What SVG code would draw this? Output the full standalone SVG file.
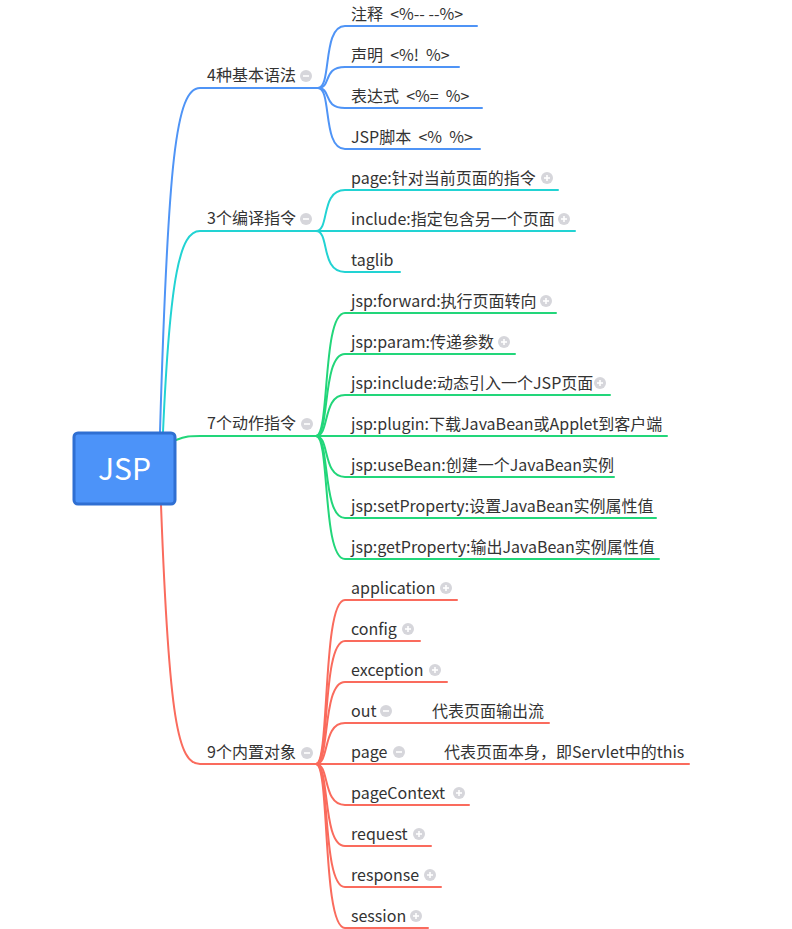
<svg xmlns="http://www.w3.org/2000/svg" width="792" height="929" viewBox="0 0 792 929">
<style>
text{font-family:"Microsoft YaHei","Noto Sans CJK SC","Noto Sans",sans-serif;font-size:16px;fill:#333;white-space:pre}
.c{fill:none;stroke-width:2;stroke-linecap:round}
.b{stroke:#4f94f6}.cy{stroke:#22d3d3}.g{stroke:#22d67a}.r{stroke:#fa6b5d}
.ic{fill:#d6d6db}
.s{stroke:#fff;stroke-width:1.6}
</style>
<defs>
<g id="minus"><circle r="6" class="ic"/><line x1="-3" y1="0" x2="3" y2="0" class="s"/></g>
<g id="plus"><circle r="6" class="ic"/><line x1="-3" y1="0" x2="3" y2="0" class="s"/><line x1="0" y1="-3" x2="0" y2="3" class="s"/></g>
</defs>
<rect width="792" height="929" fill="#fff"/>
<g id="connectors">
<path class="c b" d="M160 432 C168 160,176 88,200 88 L318 88"/>
<path class="c cy" d="M163 432 C170 275,180 231,200 231 L318 231"/>
<path class="c g" d="M176 440 C186 436,190 436,200 436 L316 436"/>
<path class="c r" d="M161 505 C169 720,178 764,200 764 L316 764"/>
<path class="c b" d="M318 88 C332 88,322 26,345 26 L477 26"/>
<path class="c b" d="M318 88 C332 88,322 67,345 67 L459 67"/>
<path class="c b" d="M318 88 C332 88,322 108,345 108 L482 108"/>
<path class="c b" d="M318 88 C332 88,322 149,345 149 L480 149"/>
<path class="c cy" d="M316 231 C330 231,320 190,345 190 L558 190"/>
<path class="c cy" d="M316 231 L575 231"/>
<path class="c cy" d="M316 231 C330 231,320 272,345 272 L400 272"/>
<path class="c g" d="M316 436 C330 436,322 313,345 313 L556 313"/>
<path class="c g" d="M316 436 C330 436,322 354,345 354 L515 354"/>
<path class="c g" d="M316 436 C330 436,322 395,345 395 L610 395"/>
<path class="c g" d="M316 436 L667 436"/>
<path class="c g" d="M316 436 C330 436,322 477,345 477 L614 477"/>
<path class="c g" d="M316 436 C330 436,322 518,345 518 L656 518"/>
<path class="c g" d="M316 436 C330 436,322 559,345 559 L659 559"/>
<path class="c r" d="M316 764 C330 764,322 600,345 600 L457 600"/>
<path class="c r" d="M316 764 C330 764,322 641,345 641 L420 641"/>
<path class="c r" d="M316 764 C330 764,322 682,345 682 L447 682"/>
<path class="c r" d="M316 764 C330 764,322 723,345 723 L549 723"/>
<path class="c r" d="M316 764 L689 764"/>
<path class="c r" d="M316 764 C330 764,322 805,345 805 L469 805"/>
<path class="c r" d="M316 764 C330 764,322 846,345 846 L431 846"/>
<path class="c r" d="M316 764 C330 764,322 887,345 887 L441 887"/>
<path class="c r" d="M316 764 C330 764,322 928,345 928 L428 928"/>
</g>
<g id="root">
<rect x="74" y="433" width="101" height="71" rx="4" fill="#4c93f9" stroke="#2f6fd2" stroke-width="3"/>
<text x="124.5" y="480" text-anchor="middle" style="font-size:30px;fill:#fff">JSP</text>
</g>
<g id="b1"><text x="207" y="81">4种基本语法</text><use href="#minus" x="306" y="76"/></g>
<g id="b1c1"><text x="351" y="20">注释  &lt;%-- --%&gt;</text></g>
<g id="b1c2"><text x="351" y="61">声明  &lt;%!  %&gt;</text></g>
<g id="b1c3"><text x="351" y="102">表达式  &lt;%=  %&gt;</text></g>
<g id="b1c4"><text x="351" y="143">JSP脚本  &lt;%  %&gt;</text></g>
<g id="b2"><text x="207" y="224">3个编译指令</text><use href="#minus" x="306" y="219"/></g>
<g id="b2c1"><text x="351" y="184">page:针对当前页面的指令</text><use href="#plus" x="547" y="178"/></g>
<g id="b2c2"><text x="351" y="225">include:指定包含另一个页面</text><use href="#plus" x="564" y="219"/></g>
<g id="b2c3"><text x="351" y="266">taglib</text></g>
<g id="b3"><text x="207" y="429">7个动作指令</text><use href="#minus" x="307" y="424"/></g>
<g id="b3c1"><text x="351" y="307">jsp:forward:执行页面转向</text><use href="#plus" x="546" y="301"/></g>
<g id="b3c2"><text x="351" y="348">jsp:param:传递参数</text><use href="#plus" x="504" y="342"/></g>
<g id="b3c3"><text x="351" y="389">jsp:include:动态引入一个JSP页面</text><use href="#plus" x="600" y="383"/></g>
<g id="b3c4"><text x="351" y="430">jsp:plugin:下载JavaBean或Applet到客户端</text></g>
<g id="b3c5"><text x="351" y="471">jsp:useBean:创建一个JavaBean实例</text></g>
<g id="b3c6"><text x="351" y="512">jsp:setProperty:设置JavaBean实例属性值</text></g>
<g id="b3c7"><text x="351" y="553">jsp:getProperty:输出JavaBean实例属性值</text></g>
<g id="b4"><text x="207" y="758">9个内置对象</text><use href="#minus" x="307" y="753"/></g>
<g id="b4c1"><text x="351" y="594">application</text><use href="#plus" x="446" y="588"/></g>
<g id="b4c2"><text x="351" y="635">config</text><use href="#plus" x="408" y="629"/></g>
<g id="b4c3"><text x="351" y="676">exception</text><use href="#plus" x="435" y="670"/></g>
<g id="b4c4"><text x="351" y="717">out</text><use href="#minus" x="386" y="711"/><text x="432" y="717">代表页面输出流</text></g>
<g id="b4c5"><text x="351" y="758">page</text><use href="#minus" x="399" y="752"/><text x="444" y="758">代表页面本身，即Servlet中的this</text></g>
<g id="b4c6"><text x="351" y="799">pageContext</text><use href="#plus" x="459" y="793"/></g>
<g id="b4c7"><text x="351" y="840">request</text><use href="#plus" x="419" y="834"/></g>
<g id="b4c8"><text x="351" y="881">response</text><use href="#plus" x="430" y="875"/></g>
<g id="b4c9"><text x="351" y="922">session</text><use href="#plus" x="416" y="916"/></g>
</svg>
